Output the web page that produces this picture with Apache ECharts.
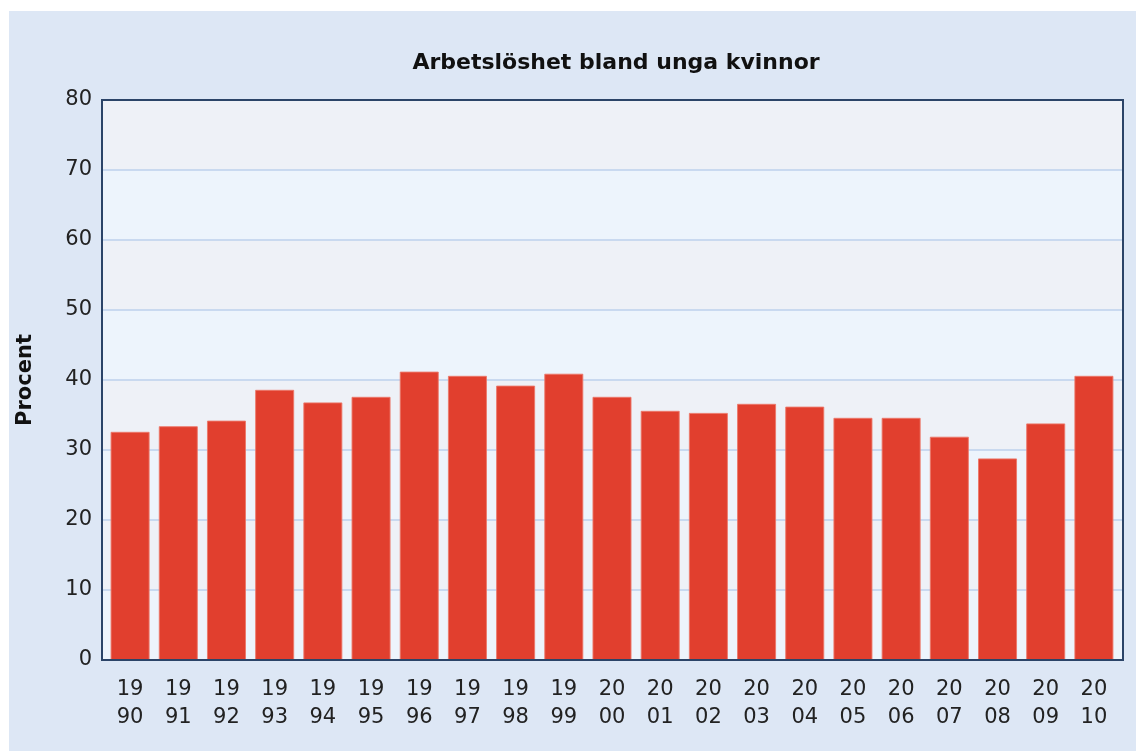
<!DOCTYPE html>
<html>
<head>
<meta charset="utf-8">
<script src="https://cdn.jsdelivr.net/npm/echarts@6/dist/echarts.min.js"></script>
<style>
html,body{margin:0;padding:0;background:#ffffff;}
#chart{width:1136px;height:751px;}
</style>
</head>
<body>
<div id="chart"></div>
<script>
var titleText = 'Arbetslöshet bland unga kvinnor';
var yAxisName = 'Procent';
var years = ['1990','1991','1992','1993','1994','1995','1996','1997','1998','1999','2000','2001','2002','2003','2004','2005','2006','2007','2008','2009','2010'];
var values = [32.6, 33.4, 34.2, 38.6, 36.8, 37.6, 41.2, 40.6, 39.2, 40.9, 37.6, 35.6, 35.3, 36.6, 36.2, 34.6, 34.6, 31.9, 28.8, 33.8, 40.6];
var yTicks = [0, 10, 20, 30, 40, 50, 60, 70, 80];

var chart = echarts.init(document.getElementById('chart'), null, {renderer: 'canvas'});
var font = '"DejaVu Sans", Verdana, sans-serif';
chart.setOption({
  animation: false,
  backgroundColor: 'transparent',
  graphic: [{
    type: 'rect', z: -10, silent: true,
    shape: {x: 9, y: 11, width: 1127, height: 740},
    style: {fill: '#dde7f5'}
  }],
  title: {
    text: titleText,
    left: 611, top: 47, textAlign: 'center',
    textStyle: {fontFamily: font, fontSize: 22, fontWeight: 'bold', color: '#111'}
  },
  grid: [
    {left: 102, right: 13, top: 100, bottom: 91,
     show: true, borderColor: '#2b4468', borderWidth: 2, backgroundColor: 'transparent', z: 3},
    {left: 106, right: 18, top: 100, bottom: 91}
  ],
  xAxis: [
    {gridIndex: 0, type: 'category', data: years, show: true,
     axisLine: {show: true, lineStyle: {color: '#2b4468', width: 2}},
     axisTick: {show: false}, axisLabel: {show: false}, splitLine: {show: false}},
    {gridIndex: 1, type: 'category', data: years,
     axisLine: {show: false},
     axisTick: {show: false},
     axisLabel: {
       interval: 0, margin: 16, lineHeight: 28,
       fontFamily: font, fontSize: 21, color: '#222',
       formatter: function (v) { return v.slice(0, 2) + '\n' + v.slice(2); }
     }}
  ],
  yAxis: [
    {gridIndex: 0, type: 'value', min: 0, max: 80, interval: 10,
     name: yAxisName, nameLocation: 'middle', nameGap: 66, nameRotate: 90,
     nameTextStyle: {fontFamily: font, fontSize: 21, fontWeight: 'bold', color: '#111'},
     axisLine: {show: true, lineStyle: {color: '#2b4468', width: 2}},
     axisTick: {show: false},
     axisLabel: {
       margin: 10, fontFamily: font, fontSize: 21, color: '#222',
       formatter: function (v) { return yTicks.indexOf(v) >= 0 ? String(v) : ''; }
     },
     splitLine: {show: true, lineStyle: {color: '#bcd0ec', width: 1.5}},
     splitArea: {show: true, areaStyle: {color: ['#edf4fc', '#eef1f7']}}},
    {gridIndex: 1, type: 'value', min: 0, max: 80, interval: 10, show: false,
     splitLine: {show: false}}
  ],
  series: [{
    type: 'bar',
    xAxisIndex: 1, yAxisIndex: 1,
    data: values,
    barCategoryGap: '19%',
    itemStyle: {color: '#e13f2e', borderColor: 'rgba(236,120,105,0.9)', borderWidth: 1}
  }]
});
</script>
</body>
</html>
